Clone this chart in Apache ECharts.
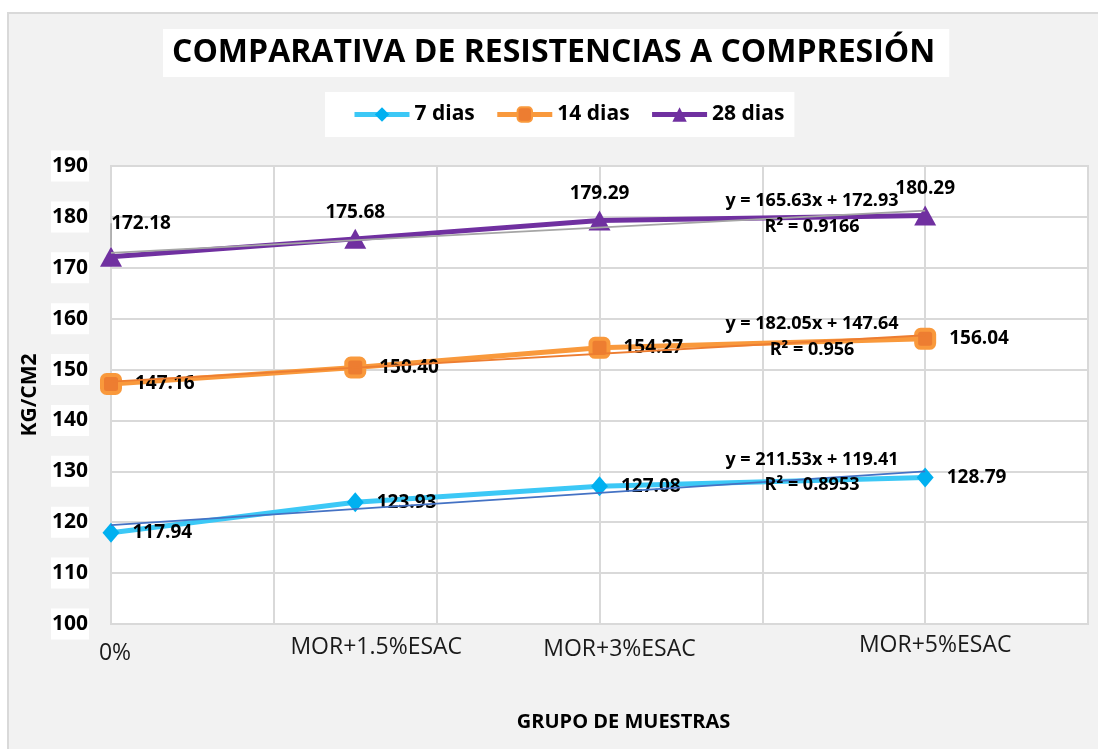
<!DOCTYPE html>
<html>
<head>
<meta charset="utf-8">
<script src="https://cdn.jsdelivr.net/npm/echarts@6/dist/echarts.min.js"></script>
<style>
html,body{margin:0;padding:0;background:#fff;}
#chart{width:1098px;height:749px;}
</style>
</head>
<body>
<div id="chart"></div>
<script>
// ---- data ----
const categories = ['0%', 'MOR+1.5%ESAC', 'MOR+3%ESAC', 'MOR+5%ESAC'];
const xValues = [0, 0.015, 0.03, 0.05];
const dias7 = [117.94, 123.93, 127.08, 128.79];
const dias14 = [147.16, 150.40, 154.27, 156.04];
const dias28 = [172.18, 175.68, 179.29, 180.29];
const seriesNames = ['7 dias', '14 dias', '28 dias'];
const trendSlope = [211.53, 182.05, 165.63];
const trendIntercept = [119.41, 147.64, 172.93];
const trendR2 = ['0.8953', '0.956', '0.9166'];
const yTicks = [100, 110, 120, 130, 140, 150, 160, 170, 180, 190];
const xTicks = [0, 0.01, 0.02, 0.03, 0.04, 0.05, 0.06];
// annotation anchor (data units) for the trendline equations: [x, eqY, r2Y]
const eqAnchor7 = [0.04305, 132.23, 127.31];
const eqAnchor14 = [0.04305, 158.95, 153.94];
const eqAnchor28 = [0.04305, 183.12, 178.01];

const FONT = '"Open Sans", "Noto Sans", sans-serif';
const pairs = arr => arr.map((v, i) => [xValues[i], v]);
const trendData = i => [[xValues[0], trendIntercept[i] + trendSlope[i] * xValues[0]],
                        [xValues[xValues.length - 1], trendIntercept[i] + trendSlope[i] * xValues[xValues.length - 1]]];
const fmtEq = i => 'y = ' + trendSlope[i].toFixed(2) + 'x + ' + trendIntercept[i].toFixed(2);
const labelFor = v => {
  for (let i = 0; i < xValues.length; i++) if (Math.abs(v - xValues[i]) < 1e-6) return '{l' + i + '|' + categories[i] + '}';
  return '';
};

const labelStyle = {fontFamily: FONT, fontWeight: 'bold', fontSize: 19, color: '#000'};

function eqMark(i, anchor) {
  return {
    silent: true,
    symbol: 'circle',
    symbolSize: 4,
    itemStyle: {color: 'rgba(0,0,0,0)', borderWidth: 0},
    label: {show: true, position: 'inside', fontFamily: FONT, fontWeight: 'bold', fontSize: 18, color: '#000',
            formatter: p => p.name},
    data: [
      {name: fmtEq(i), coord: [anchor[0], anchor[1]]},
      {name: 'R² = ' + trendR2[i], coord: [anchor[0], anchor[2]]}
    ]
  };
}

const data28 = pairs(dias28).map((p, i) => i === 0 ? {value: p, labelLine: {show: true, lineStyle: {color: '#a6a6a6', width: 1.5}}} : {value: p});

const chart = echarts.init(document.getElementById('chart'), null, {renderer: 'canvas'});
chart.setOption({
  backgroundColor: '#fff',
  animation: false,
  graphic: [{
    type: 'rect', z: -10, silent: true,
    shape: {x: 8, y: 13, width: 1100, height: 750},
    style: {fill: '#f2f2f2', stroke: '#d9d9d9', lineWidth: 2}
  }],
  title: {
    text: 'COMPARATIVA DE RESISTENCIAS A COMPRESIÓN',
    left: 163, top: 29,
    padding: [6, 14, 6, 9],
    backgroundColor: '#fff',
    textStyle: {fontFamily: FONT, fontWeight: 'bold', fontSize: 32, color: '#000', lineHeight: 36}
  },
  legend: {
    data: seriesNames,
    left: 325, top: 92,
    padding: [12, 10, 12, 27],
    backgroundColor: '#fff',
    itemWidth: 55, itemHeight: 18, itemGap: 20,
    lineStyle: {width: 5},
    textStyle: {fontFamily: FONT, fontWeight: 'bold', fontSize: 21, color: '#000'}
  },
  grid: {
    left: 111, right: 10, top: 166, bottom: 125,
    show: true, backgroundColor: '#fff', borderColor: '#d9d9d9', borderWidth: 2
  },
  xAxis: [{
    type: 'value', min: xTicks[0], max: xTicks[xTicks.length - 1], interval: 0.01,
    axisLine: {show: false}, axisTick: {show: false}, axisLabel: {show: false},
    splitLine: {show: true, lineStyle: {color: '#d9d9d9', width: 2}},
    name: 'GRUPO DE MUESTRAS', nameLocation: 'middle', nameGap: 88,
    nameTextStyle: {fontFamily: FONT, fontWeight: 'bold', fontSize: 20, color: '#000', padding: [0, 0, 0, 48]}
  }, {
    type: 'value', min: xTicks[0], max: xTicks[xTicks.length - 1], interval: 0.005,
    position: 'bottom', offset: 0,
    axisLine: {show: false}, axisTick: {show: false}, splitLine: {show: false},
    axisLabel: {
      show: true, margin: 10, formatter: labelFor,
      fontFamily: FONT, fontSize: 23, color: '#1a1a1a',
      rich: {
        l0: {fontFamily: FONT, fontSize: 23, color: '#1a1a1a', padding: [8, 0, 0, 8]},
        l1: {fontFamily: FONT, fontSize: 23, color: '#1a1a1a', padding: [2, 0, 0, 42]},
        l2: {fontFamily: FONT, fontSize: 23, color: '#1a1a1a', padding: [4, 0, 0, 40]},
        l3: {fontFamily: FONT, fontSize: 23, color: '#1a1a1a', padding: [0, 0, 0, 20]}
      }
    }
  }],
  yAxis: {
    type: 'value', min: yTicks[0], max: yTicks[yTicks.length - 1], interval: 10,
    axisLine: {show: false}, axisTick: {show: false},
    splitLine: {show: true, lineStyle: {color: '#d9d9d9', width: 2}},
    axisLabel: {fontFamily: FONT, fontWeight: 'bold', fontSize: 21, color: '#000', margin: 22,
                backgroundColor: '#fff', padding: [5, 1, 5, 1]},
    name: 'KG/CM2', nameLocation: 'middle', nameGap: 70,
    nameTextStyle: {fontFamily: FONT, fontWeight: 'bold', fontSize: 21, color: '#000'}
  },
  series: [
    {
      name: seriesNames[0], type: 'line', data: pairs(dias7),
      symbol: 'diamond', symbolSize: [17, 20],
      lineStyle: {color: '#3cc8f6', width: 5},
      itemStyle: {color: '#00b0f0'},
      label: Object.assign({show: true, position: 'right', distance: 13, formatter: p => p.value[1].toFixed(2)}, labelStyle),
      z: 3
    },
    {
      name: seriesNames[1], type: 'line', data: pairs(dias14),
      symbol: 'roundRect', symbolSize: 18,
      lineStyle: {color: '#f9993c', width: 5},
      itemStyle: {color: '#ed7d31', borderColor: '#f9993c', borderWidth: 4},
      label: Object.assign({show: true, position: 'right', distance: 13, formatter: p => p.value[1].toFixed(2)}, labelStyle),
      z: 3
    },
    {
      name: seriesNames[2], type: 'line', data: data28,
      symbol: 'triangle', symbolSize: [22, 20],
      lineStyle: {color: '#7030a0', width: 5},
      itemStyle: {color: '#7030a0'},
      label: Object.assign({show: true, position: 'top', distance: 7, formatter: p => p.value[1].toFixed(2)}, labelStyle),
      labelLayout: p => p.dataIndex === 0 ? {dx: 30, dy: -7} : {},
      z: 3
    },
    {
      name: 'trend7', type: 'line', data: trendData(0), symbol: 'none', silent: true,
      lineStyle: {color: '#4472c4', width: 1.8}, z: 4,
      markPoint: eqMark(0, eqAnchor7)
    },
    {
      name: 'trend14', type: 'line', data: trendData(1), symbol: 'none', silent: true,
      lineStyle: {color: '#ed7d31', width: 1.8}, z: 4,
      markPoint: eqMark(1, eqAnchor14)
    },
    {
      name: 'trend28', type: 'line', data: trendData(2), symbol: 'none', silent: true,
      lineStyle: {color: '#a5a5a5', width: 1.8}, z: 4,
      markPoint: eqMark(2, eqAnchor28)
    }
  ]
});
</script>
</body>
</html>
